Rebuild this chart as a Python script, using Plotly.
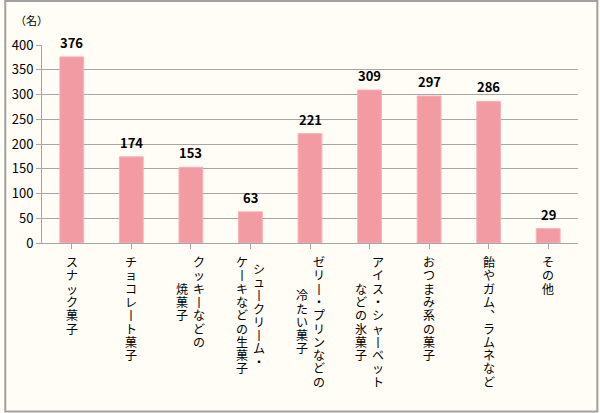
import plotly.graph_objects as go

categories = ["スナック菓子", "チョコレート菓子", "クッキーなどの焼菓子", "シュークリーム・ケーキなどの生菓子",
              "ゼリー・プリンなどの冷たい菓子", "アイス・シャーベットなどの氷菓子", "おつまみ系の菓子",
              "飴やガム、ラムネなど", "その他"]
label_lines = [["スナック菓子"], ["チョコレート菓子"], ["クッキーなどの", "焼菓子"],
               ["シュークリーム・", "ケーキなどの生菓子"], ["ゼリー・プリンなどの", "冷たい菓子"],
               ["アイス・シャーベット", "などの氷菓子"], ["おつまみ系の菓子"], ["飴やガム、ラムネなど"], ["その他"]]
values = [376, 174, 153, 63, 221, 309, 297, 286, 29]
yticks = [0, 50, 100, 150, 200, 250, 300, 350, 400]
unit_label = "（名）"

FONT = "Noto Sans CJK JP"
W, H = 600, 413
L, R, T, B = 38, 22, 45, 170
PW, PH = W - L - R, H - T - B

x = list(range(len(categories)))
fig = go.Figure(go.Bar(
    x=x, y=values,
    marker=dict(color="#F29BA2", line=dict(color="#F6B3B8", width=1)),
    width=0.4, hoverinfo="skip",
))

ann = []
for i, v in enumerate(values):
    ann.append(dict(x=i, y=v, xref="x", yref="y", text=f"<b>{v}</b>", showarrow=False,
                    yanchor="bottom", yshift=3, font=dict(family=FONT, size=13, color="#000000")))

vmap = {"ー": "丨", "、": "︑"}
STEP = 13.3
TOP = 9
COLSP = 17
for i, lines in enumerate(label_lines):
    n = len(lines)
    maxlen = max(len(s) for s in lines)
    for j, s in enumerate(lines):
        xs = ((n - 1) / 2 - j) * COLSP
        off = (maxlen - len(s)) / 2 * STEP
        for k, ch in enumerate(s):
            ann.append(dict(x=i, y=0, xref="x", yref="paper", text=vmap.get(ch, ch), showarrow=False,
                            xanchor="center", yanchor="top", xshift=xs, yshift=-(TOP + off + k * STEP),
                            borderpad=0,
                            font=dict(family=FONT, size=12, color="#000000")))

ann.append(dict(x=(27 - L) / PW, y=(T + PH - 20) / PH, xref="paper", yref="paper", text=unit_label,
                showarrow=False, xanchor="center", yanchor="middle",
                font=dict(family=FONT, size=11, color="#000000")))

fig.update_layout(
    width=W, height=H, margin=dict(l=L, r=R, t=T, b=B),
    paper_bgcolor="#FFFDF6", plot_bgcolor="#FFFDF6",
    showlegend=False, annotations=ann,
    xaxis=dict(range=[-0.5, len(categories) - 0.5], showticklabels=False, showline=True,
               linecolor="#A6A6A6", linewidth=1, ticks="outside", tickson="boundaries",
               ticklen=5, tickcolor="#A6A6A6", tickvals=x, showgrid=False, zeroline=False),
    yaxis=dict(range=[0, 400], tickvals=yticks, showline=True, linecolor="#A6A6A6", linewidth=1,
               ticks="outside", ticklen=5, tickcolor="#A6A6A6", gridcolor="#A6A6A6", gridwidth=1,
               zeroline=False, tickfont=dict(family=FONT, size=13, color="#000000")),
    shapes=[dict(type="rect", xref="paper", yref="paper",
                 x0=(1 - L) / PW, x1=(597.5 - L) / PW,
                 y0=(T + PH - 411.5) / PH, y1=(T + PH - 1) / PH,
                 line=dict(color="#A0A0A0", width=2), fillcolor="rgba(0,0,0,0)", layer="below")],
)

fig.write_html("out.html", config={"displayModeBar": False},
               post_script="document.body.style.margin='0';document.body.style.overflow='hidden';")
